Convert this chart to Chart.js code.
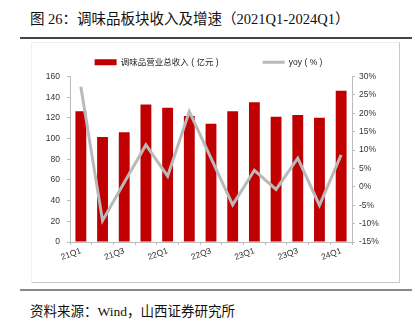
<!DOCTYPE html>
<html lang="zh">
<head>
  <meta charset="UTF-8" />
  <title>调味品板块收入及增速</title>
  <script src="https://cdn.jsdelivr.net/npm/chart.js@4.4.1/dist/chart.umd.min.js"></script>
  <style>
    body { margin: 0; width: 415px; height: 328px; background: #fff; position: relative; overflow: hidden; }
    #title { position: absolute; left: 30px; top: 7px; font: 14.5px "Liberation Serif", "Noto Sans CJK SC", serif; color: #111; white-space: nowrap; }
    #topRule { position: absolute; left: 20px; top: 37px; width: 392px; height: 1.5px; background: #444; }
    #box { position: absolute; left: 31px; top: 42px; width: 369px; height: 241px; border-right: 1px solid #c8c8c8; border-bottom: 1px solid #c8c8c8; border-top: 1px solid #f0f0f0; border-left: 1px solid #f0f0f0; box-sizing: border-box; }
    #wrap { position: absolute; left: 31px; top: 40px; width: 369px; height: 243px; }
    #bottomRule { position: absolute; left: 20px; top: 289px; width: 392px; height: 2px; background: #8a8a8a; }
    #source { position: absolute; left: 30px; top: 300px; font: 13.5px "Liberation Serif", "Noto Sans CJK SC", serif; color: #111; white-space: nowrap; }
  </style>
</head>
<body>
  <div id="title">图 26：调味品板块收入及增速（2021Q1-2024Q1）</div>
  <div id="topRule"></div>
  <div id="box"></div>
  <div id="wrap"><canvas id="myChart" width="369" height="243"></canvas></div>
  <div id="bottomRule"></div>
  <div id="source">资料来源：Wind，山西证券研究所</div>

  <script>
    const quarters = ["21Q1", "21Q2", "21Q3", "21Q4", "22Q1", "22Q2", "22Q3", "22Q4", "23Q1", "23Q2", "23Q3", "23Q4", "24Q1"];
    const revenue = [126.3, 101.5, 106.2, 133.0, 129.8, 121.8, 114.2, 126.3, 135.2, 121.2, 122.8, 120.2, 146.3];
    const yoy = [27.2, -9.2, 1.2, 11.4, 2.9, 20.5, 7.8, -4.9, 4.5, -0.7, 7.8, -5.0, 8.7];
    const revenueLabel = "调味品营业总收入 ( 亿元 )";
    const yoyLabel = "yoy ( % )";

    const tickFont = { family: "Arial, 'Liberation Sans', 'Noto Sans CJK SC'", size: 8.5 };

    const fixLegend = {
      id: "fixLegend",
      beforeInit(chart) {
        chart.legend.afterFit = function () { this.height = 60; };
      }
    };

    new Chart(document.getElementById("myChart"), {
      data: {
        labels: quarters,
        datasets: [
          {
            type: "line",
            label: yoyLabel,
            data: yoy,
            yAxisID: "y1",
            borderColor: "#b9b9b9",
            backgroundColor: "#b9b9b9",
            borderWidth: 3,
            pointRadius: 0,
            pointStyle: "line",
            tension: 0,
            order: 0
          },
          {
            type: "bar",
            label: revenueLabel,
            data: revenue,
            yAxisID: "y",
            backgroundColor: "#c00000",
            borderWidth: 0,
            pointStyle: "rect",
            barPercentage: 0.5,
            categoryPercentage: 1,
            order: 1
          }
        ]
      },
      options: {
        responsive: false,
        animation: false,
        layout: { padding: { top: -26, left: 0, right: 14, bottom: 0 } },
        plugins: {
          tooltip: { enabled: false },
          legend: {
            position: "top",
            reverse: true,
            labels: {
              usePointStyle: true,
              pointStyleWidth: 22,
              boxHeight: 6,
              padding: 44,
              color: "#222",
              font: { family: "Arial, 'Liberation Sans', 'Noto Sans CJK SC'", size: 8.5 }
            }
          }
        },
        scales: {
          x: {
            offset: true,
            grid: { display: true, drawOnChartArea: false, color: "#bbb", tickLength: 3, offset: true },
            border: { color: "#bbb" },
            ticks: {
              autoSkip: false,
              maxRotation: 20,
              minRotation: 20,
              padding: 1,
              color: "#333",
              font: tickFont,
              callback: (v, i) => (i % 2 === 0 ? quarters[i] : "")
            },
            afterFit(scale) { scale.height = 41; }
          },
          y: {
            position: "left",
            min: 0,
            max: 160,
            grid: { display: true, drawOnChartArea: false, color: "#bbb", tickLength: 3 },
            border: { color: "#bbb" },
            ticks: { stepSize: 20, padding: 7, color: "#333", font: tickFont },
            afterFit(scale) { scale.width = 39; }
          },
          y1: {
            position: "right",
            min: -15,
            max: 30,
            grid: { display: true, drawOnChartArea: false, color: "#bbb", tickLength: 3 },
            border: { color: "#bbb" },
            ticks: { stepSize: 5, padding: 4, color: "#333", font: tickFont, callback: (v) => v + "%" },
            afterFit(scale) { scale.width = 34; }
          }
        }
      },
      plugins: [fixLegend]
    });
  </script>
</body>
</html>
